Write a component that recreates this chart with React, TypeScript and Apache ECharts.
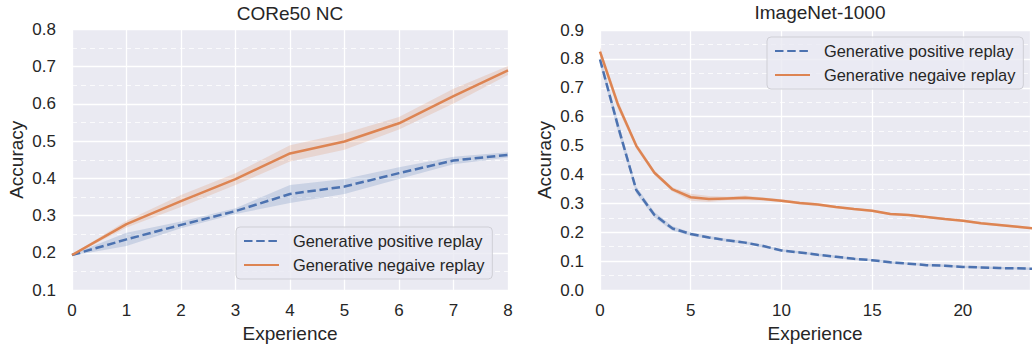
import React, { useEffect, useRef } from 'react';
import * as echarts from 'echarts';

const SERIES_POS = 'Generative positive replay';
const SERIES_NEG = 'Generative negaive replay';

const LEFT_TITLE = 'CORe50 NC';
const RIGHT_TITLE = 'ImageNet-1000';
const X_NAME = 'Experience';
const Y_NAME = 'Accuracy';

// CORe50 NC
const LEFT_X = [0, 1, 2, 3, 4, 5, 6, 7, 8];
const LEFT_POS_MEAN = [0.194, 0.236, 0.275, 0.312, 0.358, 0.378, 0.414, 0.448, 0.463];
const LEFT_POS_CI = [0.002, 0.018, 0.009, 0.008, 0.024, 0.02, 0.016, 0.01, 0.007];
const LEFT_NEG_MEAN = [0.194, 0.277, 0.339, 0.398, 0.467, 0.499, 0.548, 0.621, 0.69];
const LEFT_NEG_CI = [0.002, 0.009, 0.016, 0.016, 0.022, 0.022, 0.017, 0.02, 0.012];

// ImageNet-1000
const RIGHT_X = [0, 1, 2, 3, 4, 5, 6, 7, 8, 9, 10, 11, 12, 13, 14, 15, 16, 17, 18, 19, 20, 21, 22, 23, 24];
const RIGHT_POS_MEAN = [0.798, 0.565, 0.346, 0.26, 0.213, 0.194, 0.182, 0.172, 0.164, 0.152, 0.137, 0.13, 0.122, 0.115, 0.108, 0.103, 0.096, 0.091, 0.086, 0.084, 0.08, 0.078, 0.076, 0.075, 0.073];
const RIGHT_POS_CI = [0.015, 0.02, 0.012, 0.01, 0.008, 0.006, 0.005, 0.005, 0.005, 0.005, 0.004, 0.004, 0.004, 0.004, 0.004, 0.004, 0.004, 0.004, 0.004, 0.004, 0.004, 0.004, 0.004, 0.004, 0.004];
const RIGHT_NEG_MEAN = [0.825, 0.64, 0.499, 0.406, 0.348, 0.321, 0.315, 0.317, 0.319, 0.315, 0.309, 0.301, 0.296, 0.287, 0.28, 0.274, 0.263, 0.26, 0.253, 0.246, 0.24, 0.231, 0.225, 0.219, 0.213];
const RIGHT_NEG_CI = [0.015, 0.015, 0.01, 0.008, 0.007, 0.012, 0.01, 0.006, 0.008, 0.005, 0.005, 0.005, 0.005, 0.004, 0.004, 0.004, 0.004, 0.004, 0.004, 0.004, 0.004, 0.004, 0.004, 0.004, 0.004];

const LEFT_Y_MIN = 0.1;
const LEFT_Y_MAX = 0.8;
const RIGHT_Y_MIN = 0;
const RIGHT_Y_MAX = 0.9;
const LEFT_X_MAX = 8;
const RIGHT_X_MAX = 23.7;

const FONT = '"Liberation Sans", Arial, Helvetica, sans-serif';
const TEXT = '#262626';
const BLUE = '#4C72B0';
const ORANGE = '#DD8452';
const BLUE_BAND = 'rgba(76,114,176,0.2)';
const ORANGE_BAND = 'rgba(221,132,82,0.2)';
const BG = '#EAEAF2';

function pairs(xs: number[], ys: number[]) {
  return xs.map((x, i) => [x, ys[i]]);
}

function bandSeries(xs: number[], mean: number[], ci: number[], fill: string, idx: number) {
  return {
    type: 'custom',
    xAxisIndex: idx,
    yAxisIndex: idx,
    data: xs.map((x, i) => [x, mean[i] - ci[i], mean[i] + ci[i]]),
    encode: { x: 0, y: [1, 2] },
    silent: true,
    clip: true,
    z: 1,
    renderItem: (params: any, api: any) => {
      if (params.dataIndex !== 0) return null;
      const upper = xs.map((x, i) => api.coord([x, mean[i] + ci[i]]));
      const lower = xs.map((x, i) => api.coord([x, mean[i] - ci[i]])).reverse();
      const cs = params.coordSys;
      return {
        type: 'polygon',
        shape: { points: upper.concat(lower) },
        style: { fill, stroke: 'none' },
        clipPath: { type: 'rect', shape: { x: cs.x, y: cs.y, width: cs.width, height: cs.height } },
      };
    },
  };
}

function lineSeries(name: string, xs: number[], mean: number[], color: string, idx: number, dashed: boolean) {
  return {
    name,
    type: 'line',
    xAxisIndex: idx,
    yAxisIndex: idx,
    data: pairs(xs, mean),
    symbol: 'none',
    color,
    lineStyle: { color, width: 2.5, type: dashed ? [8.5, 3.7] : 'solid' },
    z: 3,
  };
}

function xAxis(idx: number, max: number, interval: number) {
  return {
    type: 'value',
    gridIndex: idx,
    min: 0,
    max,
    interval,
    axisLine: { show: false },
    axisTick: { show: false },
    splitLine: { show: true, lineStyle: { color: '#ffffff', width: 1.3 } },
    axisLabel: {
      fontSize: 17,
      fontFamily: FONT,
      color: TEXT,
      margin: 12,
      formatter: (v: number) => (Math.abs(v / interval - Math.round(v / interval)) < 1e-6 ? String(Math.round(v)) : ''),
    },
    name: X_NAME,
    nameLocation: 'middle',
    nameGap: 34,
    nameTextStyle: { fontSize: 19, fontFamily: FONT, color: TEXT },
  };
}

function yAxis(idx: number, min: number, max: number) {
  return {
    type: 'value',
    gridIndex: idx,
    min,
    max,
    interval: 0.1,
    axisLine: { show: false },
    axisTick: { show: false },
    minorTick: { show: false, splitNumber: 2 },
    minorSplitLine: { show: true, lineStyle: { color: 'rgba(255,255,255,0.75)', width: 1, type: [5, 4] } },
    splitLine: { show: true, lineStyle: { color: '#ffffff', width: 1.3 } },
    axisLabel: {
      fontSize: 17,
      fontFamily: FONT,
      color: TEXT,
      margin: 16,
      formatter: (v: number) => v.toFixed(1),
    },
    name: Y_NAME,
    nameLocation: 'middle',
    nameGap: 46,
    nameRotate: 90,
    nameTextStyle: { fontSize: 19, fontFamily: FONT, color: TEXT },
  };
}

function legend(left: number, top: number) {
  return {
    data: [SERIES_POS, SERIES_NEG],
    orient: 'vertical',
    left,
    top,
    itemWidth: 35,
    itemHeight: 12,
    itemGap: 8,
    padding: [6, 8, 6, 7],
    backgroundColor: 'rgba(234,234,242,0.8)',
    borderColor: '#cfcfd6',
    borderWidth: 1,
    borderRadius: 4,
    selectedMode: false,
    itemStyle: { opacity: 0 },
    textStyle: { fontSize: 16.4, fontFamily: FONT, color: TEXT, padding: [0, 0, 0, 9] },
  };
}

export default function App() {
  const ref = useRef<HTMLDivElement>(null);
  useEffect(() => {
    if (!ref.current) return;
    const chart = echarts.init(ref.current, undefined, { renderer: 'svg' });
    chart.setOption({
      animation: false,
      backgroundColor: '#ffffff',
      textStyle: { fontFamily: FONT },
      graphic: [
        {
          type: 'text',
          x: 290,
          y: 13,
          style: { text: LEFT_TITLE, align: 'center', verticalAlign: 'middle', fontSize: 19, fontFamily: FONT, fill: TEXT },
        },
        {
          type: 'text',
          x: 820,
          y: 12,
          style: { text: RIGHT_TITLE, align: 'center', verticalAlign: 'middle', fontSize: 19, fontFamily: FONT, fill: TEXT },
        },
      ],
      grid: [
        { left: 72, right: 1033 - 508, top: 29.5, bottom: 58, show: true, backgroundColor: BG, borderWidth: 0 },
        { left: 600, right: 0, top: 30, bottom: 58, show: true, backgroundColor: BG, borderWidth: 0 },
      ],
      xAxis: [xAxis(0, LEFT_X_MAX, 1), xAxis(1, RIGHT_X_MAX, 5)],
      yAxis: [yAxis(0, LEFT_Y_MIN, LEFT_Y_MAX), yAxis(1, RIGHT_Y_MIN, RIGHT_Y_MAX)],
      legend: [legend(236, 227), legend(767, 37)],
      series: [
        bandSeries(LEFT_X, LEFT_POS_MEAN, LEFT_POS_CI, BLUE_BAND, 0),
        bandSeries(LEFT_X, LEFT_NEG_MEAN, LEFT_NEG_CI, ORANGE_BAND, 0),
        bandSeries(RIGHT_X, RIGHT_POS_MEAN, RIGHT_POS_CI, BLUE_BAND, 1),
        bandSeries(RIGHT_X, RIGHT_NEG_MEAN, RIGHT_NEG_CI, ORANGE_BAND, 1),
        lineSeries(SERIES_POS, LEFT_X, LEFT_POS_MEAN, BLUE, 0, true),
        lineSeries(SERIES_NEG, LEFT_X, LEFT_NEG_MEAN, ORANGE, 0, false),
        lineSeries(SERIES_POS, RIGHT_X, RIGHT_POS_MEAN, BLUE, 1, true),
        lineSeries(SERIES_NEG, RIGHT_X, RIGHT_NEG_MEAN, ORANGE, 1, false),
      ],
    });
    return () => chart.dispose();
  }, []);
  return <div ref={ref} style={{ position: 'fixed', left: 0, top: 0, width: 1033, height: 348 }} />;
}
